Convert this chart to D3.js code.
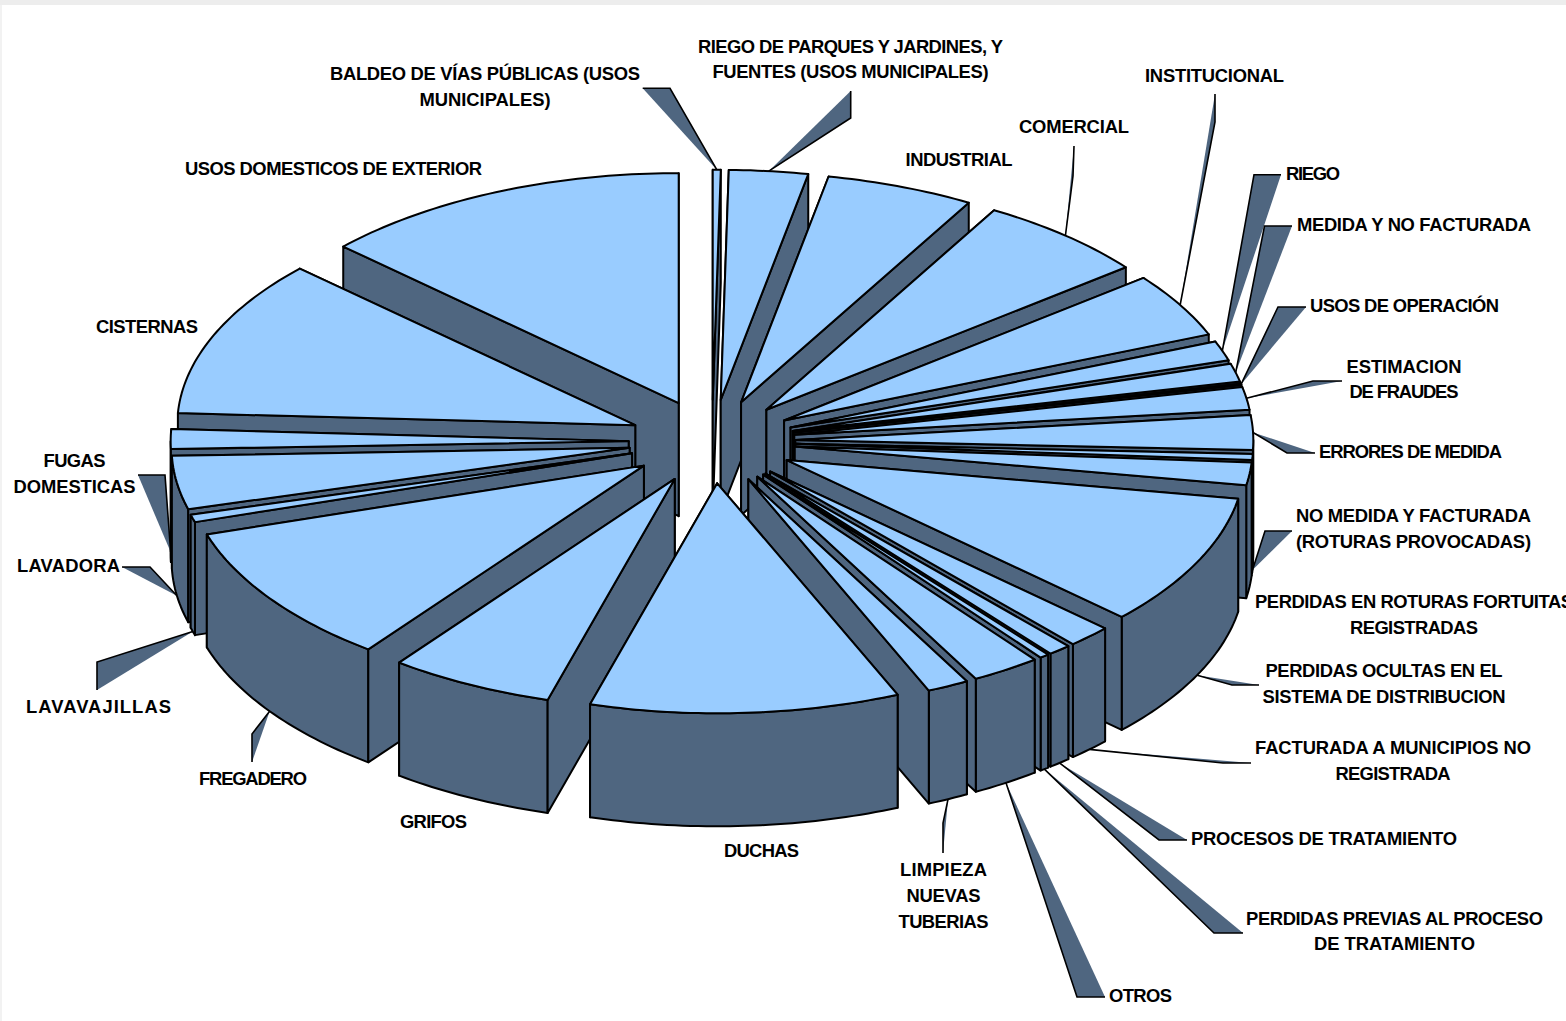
<!DOCTYPE html>
<html><head><meta charset="utf-8">
<script src="https://cdn.jsdelivr.net/npm/d3@7/dist/d3.min.js"></script>
<style>html,body{margin:0;padding:0;background:#fff;overflow:hidden}svg{display:block}
text{font-family:"Liberation Sans",Arial,sans-serif;font-weight:700;font-size:18.4px;fill:#000;text-anchor:middle;dominant-baseline:central}</style>
</head><body><svg id="c" width="1566" height="1021"></svg>
<script>
// share of each use, percent, clockwise from 12 o'clock
const categories = ["Baldeo de vías públicas","Riego de parques y jardines","Industrial","Comercial","Institucional","Riego","Medida y no facturada","Usos de operación","Estimación de fraudes","Errores de medida","No medida y facturada","Pérdidas en roturas fortuitas","Pérdidas ocultas","Facturada a municipios","Procesos de tratamiento","Pérdidas previas","Otros","Limpieza nuevas tuberías","Duchas","Grifos","Fregadero","Lavavajillas","Lavadora","Fugas domésticas","Cisternas","Usos domésticos de exterior"];
const values = [0.28,2.78,5.22,6.08,4.53,1.39,1.28,0.11,1.58,2.44,0.42,1.58,9.25,1.56,0.81,0.33,2.44,1.47,10.92,5.80,9.89,0.53,3.75,1.39,11.08,13.08];
const labelText = [
 ["BALDEO DE VÍAS PÚBLICAS (USOS","MUNICIPALES)"],
 ["RIEGO DE PARQUES Y JARDINES, Y","FUENTES (USOS MUNICIPALES)"],
 ["INDUSTRIAL"],["COMERCIAL"],["INSTITUCIONAL"],["RIEGO"],["MEDIDA Y NO FACTURADA"],["USOS DE OPERACIÓN"],
 ["ESTIMACION","DE FRAUDES"],["ERRORES DE MEDIDA"],["NO MEDIDA Y FACTURADA","(ROTURAS PROVOCADAS)"],
 ["PERDIDAS EN ROTURAS FORTUITAS","REGISTRADAS"],["PERDIDAS OCULTAS EN EL","SISTEMA DE DISTRIBUCION"],
 ["FACTURADA A MUNICIPIOS NO","REGISTRADA"],["PROCESOS DE TRATAMIENTO"],["PERDIDAS PREVIAS AL PROCESO","DE TRATAMIENTO"],
 ["OTROS"],["LIMPIEZA","NUEVAS","TUBERIAS"],["DUCHAS"],["GRIFOS"],["FREGADERO"],["LAVAVAJILLAS"],["LAVADORA"],["FUGAS","DOMESTICAS"],["CISTERNAS"],["USOS DOMESTICOS DE EXTERIOR"]];
// label placement: centre x, first-line y, line step
const labelPos = [[485,73,26],[850.5,46,25],[959,159,0],[1074,126,0],[1214.5,75,0],[1313,173,0],[1414,224,0],[1404.5,305,0],[1404,366,25],[1410.5,451,0],[1413.5,515,26],[1414,601,26],[1384,670,26],[1393,747,26],[1324,838,0],[1394.5,918,25],[1140.5,995,0],[943.5,869,26],[761.5,850,0],[433.5,821,0],[253,778,0],[98.5,706,0],[68.5,565,0],[74.5,460,26],[147,326,0],[333.5,168,0]];
// rendered width of each label line, pixels
const labelWidth = [[310,131],[305,276],[107],[110],[139],[54],[234],[189],[115,109],[183],[235,235],[318,128],[237,243],[276,115],[266],[297,161],[63],[87,74,90],[75],[67],[108],[145],[103],[62,122],[102],[297]];
// wedge callout bases (outer end of each leader, the second point joins the tip by an inked edge), null where no leader is drawn
const leaderBase = [[[642.7,88.3],[670,88.3]],[[850.7,91],[850.7,118]],null,[[1074,146],[1073,176]],[[1215,94],[1215,122]],[[1281,174.7],[1254,174.7]],[[1292,226],[1264.5,226]],[[1306,307],[1278,307]],[[1342,381],[1313,381]],[[1315,453],[1287,453]],[[1292,531],[1265,531]],null,[[1259,685],[1232,685]],[[1251,763],[1223,763]],[[1187,840],[1159,840]],[[1243,933],[1214,933]],[[1105,997],[1077,997]],[[943,853],[943,823]],null,null,[[252,762],[252,734]],[[97,690],[97,662]],[[122,567],[150,567]],[[138,475],[165,475]],null,null];

const TOP="#99CCFF", WALL="#4F6680", INK="#000";
const cx=712, cy=441.5, Rx=458, Ry=230, depth=113, explode=0.182;
const sx=d3.scaleLinear([-1,1],[cx-Rx,cx+Rx]), sy=d3.scaleLinear([-1,1],[cy-Ry,cy+Ry]);
const svg=d3.select("#c");
svg.append("rect").attr("width",1566).attr("height",5).attr("fill","#ededed");
svg.append("rect").attr("y",5).attr("width",2).attr("height",1016).attr("fill","#f2f2f2");

const pie=d3.pie().sort(null).value(d=>d);
const slices=pie(values).map((d,i)=>{
  const a0=d.startAngle,a1=d.endAngle,m=(a0+a1)/2;
  const ax=explode*Math.sin(m), ay=-explode*Math.cos(m);
  const pt=(t,dz=0)=>[sx(ax+Math.sin(t)),sy(ay-Math.cos(t))+dz];
  const apex=dz=>[sx(ax),sy(ay)+dz];
  const arc=(s,e,dz=0)=>{const n=Math.max(1,Math.ceil((e-s)/(Math.PI/180)));return d3.range(n+1).map(k=>pt(s+(e-s)*k/n,dz));};
  return {i,a0,a1,m,pt,apex,arc};
});
const line=d3.line();
const closed=p=>line(p)+"Z";
const poly=(g,p,fill)=>g.append("path").attr("d",closed(p)).attr("fill",fill).attr("stroke",INK).attr("stroke-width",2).attr("stroke-linejoin","round");
const order=[...slices].sort((a,b)=>Math.cos(b.m)-Math.cos(a.m));

order.forEach(s=>{
  const g=svg.append("g");
  const wall=t=>[s.apex(0),s.pt(t),s.pt(t,depth),s.apex(depth)];
  const startFront=Math.sin(s.a0)<0, endFront=Math.sin(s.a1)>0;
  if(!startFront) poly(g,wall(s.a0),WALL);
  if(!endFront) poly(g,wall(s.a1),WALL);
  const lo=Math.max(s.a0,Math.PI/2), hi=Math.min(s.a1,Math.PI*1.5);
  if(hi>lo) poly(g,[...s.arc(lo,hi),...s.arc(lo,hi,depth).reverse()],WALL);
  if(startFront) poly(g,wall(s.a0),WALL);
  if(endFront) poly(g,wall(s.a1),WALL);
  poly(g,[s.apex(0),...s.arc(s.a0,s.a1)],TOP);
});

// wedge callouts: tip sits on the slice's mid-arc, on its base edge when it faces front
slices.forEach(s=>{
  const b=leaderBase[s.i]; if(!b) return;
  const tip=s.pt(s.m,Math.cos(s.m)<0.02?depth:0);
  svg.append("path").attr("d",closed([tip,b[0],b[1]])).attr("fill",WALL);
  svg.append("path").attr("d",line([b[0],b[1],tip])).attr("fill","none").attr("stroke",INK).attr("stroke-width",1.6);
});
labelText.forEach((lines,i)=>{
  const [x,y,step]=labelPos[i];
  lines.forEach((t,k)=>svg.append("text").attr("x",x).attr("y",y+k*step)
    .attr("textLength",labelWidth[i][k]).attr("lengthAdjust","spacing").text(t));
});
</script></body></html>
